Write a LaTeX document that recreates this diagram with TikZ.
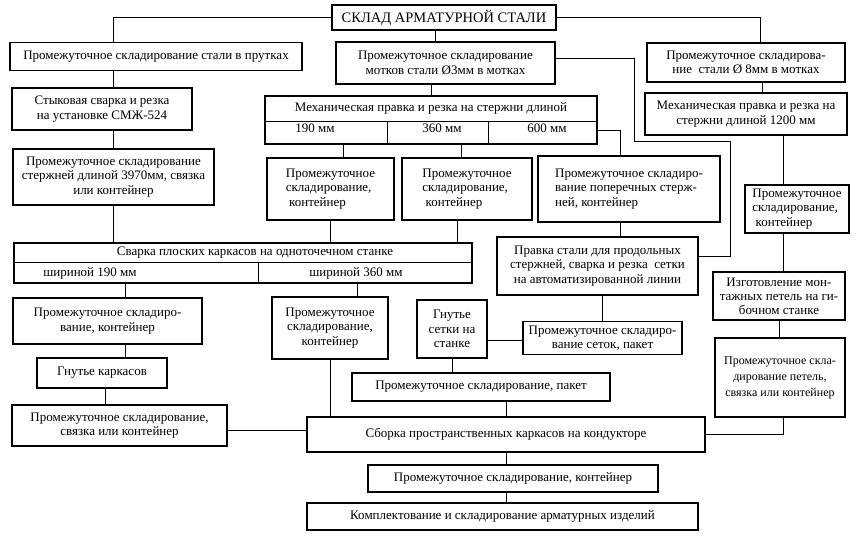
\documentclass[tikz,border=0pt]{standalone}
\usepackage{fontspec}
\setmainfont{Liberation Serif}

\begin{document}
\begin{tikzpicture}[
        x=1pt, y=-1pt,
        font=\fontsize{13}{14.5}\selectfont,
        % блок технологической операции
        block/.style={
            rectangle,
            draw,
            line width=1.5pt,
            align=center,
            inner sep=1.5pt
        },
        % блок с текстом по левому краю
        block_left/.style={
            block,
            align=left
        },
        % соединительные линии
        link/.style={
            line width=0.9pt
        },
        % линии внутри таблиц
        cell_line/.style={
            line width=0.9pt
        }
    ]
    \useasboundingbox (0,0) rectangle (863,536);

    % --- 1. Склад и первый ряд ---

    \node (sklad) [block, font=\fontsize{14.5}{16}\selectfont, minimum width=224pt, minimum height=25pt] at (444,17.5) {СКЛАД АРМАТУРНОЙ СТАЛИ};

    \node (rods) [block, minimum width=292pt, minimum height=28pt] at (156,56.5) {Промежуточное складирование стали в прутках};

    \node (coils3) [block, minimum width=219pt, minimum height=42pt] at (445.5,63) {Промежуточное складирование\\мотков стали Ø3мм в мотках};

    \node (coils8) [block, minimum width=198pt, minimum height=39pt] at (746,62.5) {Промежуточное складирова-\\ние\ \ стали Ø 8мм в мотках};

    % --- 2. Резка и правка ---

    \node (buttweld) [block, minimum width=180pt, minimum height=42pt] at (102,109) {Стыковая сварка и резка\\на установке СМЖ-524};

    % таблица: правка и резка
    \node (cutting) [block, minimum width=332pt, minimum height=48pt] at (431,120) {};
    \node (cuttinghead) at (431,108) {Механическая правка и резка на стержни длиной};
    \draw[cell_line] ([yshift=-1pt]cutting.west) -- ([yshift=-1pt]cutting.east);
    \draw[cell_line] ([xshift=-44pt,yshift=-1pt]cutting.center) -- ([xshift=-44pt]cutting.south);
    \draw[cell_line] ([xshift=57pt,yshift=-1pt]cutting.center) -- ([xshift=57pt]cutting.south);
    \node (len190) at (315,128) {190 мм};
    \node (len360) at (442,128) {360 мм};
    \node (len600) at (547,128) {600 мм};

    \node (cut1200) [block, minimum width=202pt, minimum height=42pt] at (746,114) {Механическая правка и резка на\\стержни длиной 1200 мм};

    % --- 3. Промежуточные склады стержней ---

    \node (store3970) [block, minimum width=201pt, minimum height=56pt] at (113.5,177) {Промежуточное складирование\\стержней длиной 3970мм, связка\\или контейнер};

    \node (store190) [block_left, minimum width=127pt, minimum height=62pt] at (330.5,189) {Промежуточное\\складирование,\\\ контейнер};

    \node (store360) [block_left, minimum width=130pt, minimum height=62pt] at (467,189) {Промежуточное\\складирование,\\\ контейнер};

    \node (storecross) [block_left, minimum width=182pt, minimum height=66pt] at (629,189) {Промежуточное складиро-\\вание поперечных стерж-\\ней, контейнер};

    \node (store1200) [block_left, minimum width=104pt, minimum height=48pt] at (797,209) {Промежуточное\\складирование,\\\ контейнер};

    % --- 4. Сварка каркасов и сеток ---

    % таблица: сварка плоских каркасов
    \node (weld) [block, minimum width=458pt, minimum height=40pt] at (243,263) {};
    \node (weldhead) at (255,253) {Сварка плоских каркасов на одноточечном станке};
    \draw[cell_line] ([yshift=1pt]weld.west) -- ([yshift=1pt]weld.east);
    \draw[cell_line] ([xshift=15pt,yshift=1pt]weld.center) -- ([xshift=15pt]weld.south);
    \node (wid190) at (90,273) {шириной 190 мм};
    \node (wid360) at (356,273) {шириной 360 мм};

    \node (meshline) [block, minimum width=201pt, minimum height=58pt] at (597.5,266) {Правка стали для продольных\\стержней, сварка и резка\ \ сетки\\на автоматизированной линии};

    \node (loops) [block, minimum width=132pt, minimum height=48pt, font=\fontsize{13}{14}\selectfont] at (779,296) {Изготовление мон-\\тажных петель на ги-\\бочном станке};

    \node (storew190) [block, minimum width=189pt, minimum height=46pt] at (107.5,321) {Промежуточное складиро-\\вание, контейнер};

    \node (storew360) [block, minimum width=116pt, minimum height=62pt] at (330,328) {Промежуточное\\складирование,\\контейнер};

    \node (bendmesh) [block, minimum width=70pt, minimum height=58pt] at (452,329) {Гнутье\\сетки на\\станке};

    \node (storemesh) [block, minimum width=159pt, minimum height=33pt] at (602.5,338) {Промежуточное складиро-\\вание сеток, пакет};

    \node (loopstore) [block, minimum width=130pt, minimum height=79pt, font=\fontsize{12}{16}\selectfont] at (780,377.5) {Промежуточное скла-\\дирование петель,\\связка или контейнер};

    % --- 5. Сборка ---

    \node (bendframe) [block, minimum width=130pt, minimum height=30pt] at (102,373) {Гнутье каркасов};

    \node (storepack) [block, minimum width=258pt, minimum height=28pt] at (481,387) {Промежуточное складирование, пакет};

    \node (storebundle) [block, minimum width=215pt, minimum height=41pt] at (119.5,425.5) {Промежуточное складирование,\\связка или контейнер};

    \node (assembly) [block, minimum width=398pt, minimum height=35pt] at (506,434.5) {Сборка пространственных каркасов на кондукторе};

    \node (storefinal) [block, minimum width=290pt, minimum height=27pt] at (513,478.5) {Промежуточное складирование, контейнер};

    \node (complete) [block, minimum width=391pt, minimum height=27pt] at (502.5,516.5) {Комплектование и складирование арматурных изделий};

    % --- 6. Связи ---

    % от склада
    \draw[link] (sklad.west) -| (rods.north -| store3970.north);
    \draw[link] (sklad.east) -| ([xshift=14pt]coils8.north);
    \draw[link] ([xshift=-9pt]sklad.south) -- ([xshift=-10.5pt]coils3.north);

    % левая ветвь
    \draw[link] (store3970.north |- rods.south) -- (store3970.north |- buttweld.north);
    \draw[link] (store3970.north |- buttweld.south) -- (store3970.north);
    \draw[link] (store3970.south) -- (store3970.south |- weld.north);

    % мотки 3 мм
    \draw[link] (cutting.north |- coils3.south) -- (cutting.north);
    \draw[link] ([yshift=5pt]coils3.east) -| (634,141) -| (730,256) -- ([yshift=10pt]meshline.east);

    % выходы таблицы резки
    \coordinate (k190) at (343,144);
    \coordinate (k360) at (461,144);
    \draw[link] (k190) -- (k190 |- store190.north);
    \draw[link] (k360) -- (k360 |- store360.north);
    \draw[link] ([yshift=-10pt]cutting.east) -| ([xshift=-9pt]storecross.north);
    \draw[link] ([xshift=-9pt]storecross.south) -- ([xshift=22.5pt]meshline.north);

    % входы и выходы таблицы сварки
    \coordinate (w360) at (457,243);
    \coordinate (b190) at (125,283);
    \coordinate (b360) at (357,283);
    \draw[link] (store190.south) -- (store190.south |- weld.north);
    \draw[link] (w360) -- (w360 |- store360.south);
    \draw[link] (b190) -- (b190 |- storew190.north);
    \draw[link] (b360) -- (b360 |- storew360.north);

    % плоские каркасы
    \draw[link] ([xshift=17.5pt]storew190.south) -- ([xshift=23pt]bendframe.north);
    \draw[link] ([xshift=3pt]bendframe.south) -- ([xshift=-14.5pt]storebundle.north);
    \draw[link] ([yshift=-5pt]storebundle.east) -- ([yshift=4pt]assembly.west);
    \draw[link] (storew360.south) -- (storew360.south |- assembly.north);

    % сетки
    \draw[link] (storemesh.north) -- (storemesh.north |- meshline.south);
    \draw[link] ([yshift=-11pt]bendmesh.east) -- ([yshift=-2pt]storemesh.west);
    \draw[link] (bendmesh.south) -- (bendmesh.south |- storepack.north);
    \draw[link] (assembly.north) -- (assembly.north |- storepack.south);

    % правая ветвь
    \draw[link] ([xshift=16pt]coils8.south) -- ([xshift=16pt]cut1200.north);
    \draw[link] ([xshift=37pt]cut1200.south) -- ([xshift=-14pt]store1200.north);
    \draw[link] ([xshift=-14pt]store1200.south) -- ([xshift=4pt]loops.north);
    \draw[link] (loops.south) -- (loops.south |- loopstore.north);
    \draw[link] (assembly.east) -| ([xshift=3pt]loopstore.south);

    % готовая продукция
    \draw[link] (assembly.south) -- (assembly.south |- storefinal.north);
    \draw[link] (assembly.south |- storefinal.south) -- (assembly.south |- complete.north);

\end{tikzpicture}
\end{document}
